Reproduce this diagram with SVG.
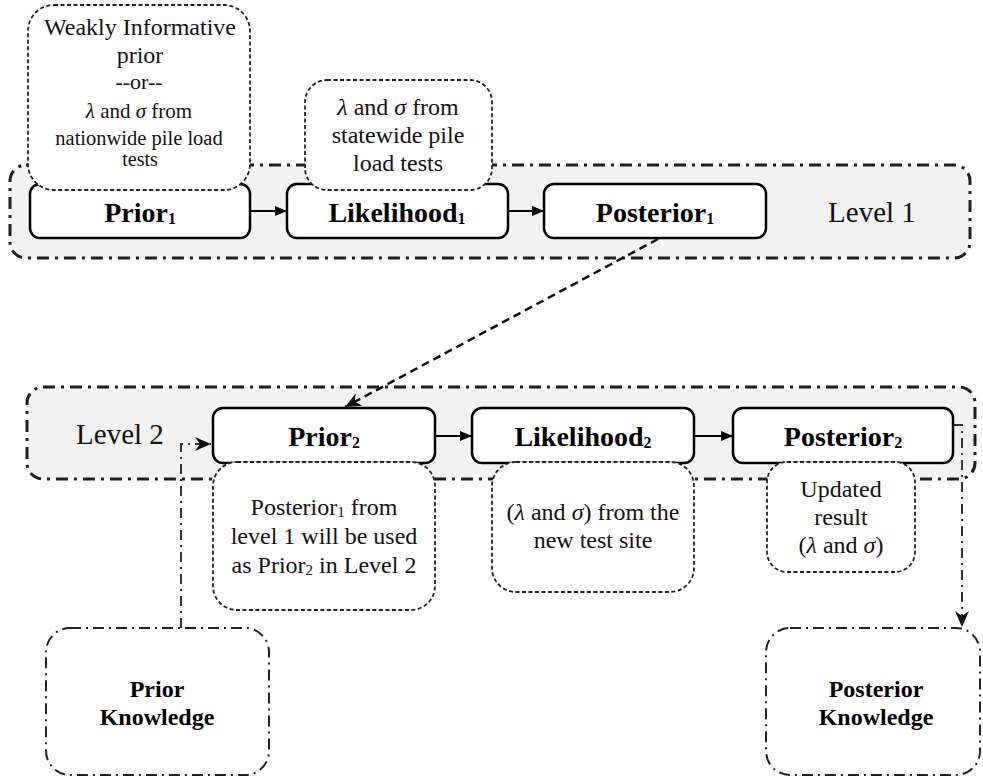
<svg xmlns="http://www.w3.org/2000/svg" width="983" height="778" viewBox="0 0 983 778" font-family="Liberation Serif, serif">
<defs>
<style>
.cont{fill:#f2f2f2;stroke:#1e1e1e;stroke-width:3;stroke-dasharray:12 6 3 6}
.node{fill:#fff;stroke:#000;stroke-width:2.5}
.note{fill:#fff;stroke:#222;stroke-width:1.8;stroke-dasharray:4 2.5}
.know{fill:#fff;stroke:#222;stroke-width:2;stroke-dasharray:11 5 2 5}
.lbl{font-weight:bold;font-size:28px;text-anchor:middle;fill:#000}
.kl{font-weight:bold;font-size:24px;text-anchor:middle;fill:#000}
.txt{font-size:24px;text-anchor:middle;fill:#111}
.lev{font-size:29px;text-anchor:middle;fill:#111}
.sub{font-size:16px}
.it{font-style:italic}
.flow{fill:none;stroke:#000;stroke-width:2}
.dash{fill:none;stroke:#111;stroke-width:2.5;stroke-dasharray:8 5}
.dd{fill:none;stroke:#333;stroke-width:2;stroke-dasharray:10 5 2 5}
</style>
<marker id="ah" markerWidth="12" markerHeight="10" refX="11" refY="5" orient="auto" markerUnits="userSpaceOnUse">
<path d="M0,0 L12,5 L0,10 z" fill="#000"/>
</marker>
<marker id="av" markerWidth="18" markerHeight="14" refX="16" refY="7" orient="auto" markerUnits="userSpaceOnUse">
<path d="M0,0 L16,7 L0,14 L5,7 z" fill="#111"/>
</marker>
</defs>

<g id="level1">
<rect class="cont" x="10" y="165" width="960" height="93" rx="16"/>
<text class="lev" x="872" y="222">Level 1</text>
</g>
<g id="level2">
<rect class="cont" x="27" y="387" width="948" height="92" rx="16"/>
<text class="lev" x="120" y="444">Level 2</text>
</g>

<g id="connectors">
<line class="flow" x1="250" y1="211" x2="286" y2="211" marker-end="url(#ah)"/>
<line class="flow" x1="508" y1="211" x2="543" y2="211" marker-end="url(#ah)"/>
<line class="flow" x1="435" y1="436" x2="471" y2="436" marker-end="url(#ah)"/>
<line class="flow" x1="694" y1="436" x2="732" y2="436" marker-end="url(#ah)"/>
<line class="dash" x1="658" y1="239" x2="345" y2="407" marker-end="url(#av)"/>
<path class="dd" d="M181 628 V444 H211" marker-end="url(#av)"/>
<path class="dd" d="M953 425 H962 V627" marker-end="url(#av)"/>
</g>

<g id="prior1">
<rect class="node" x="30" y="184" width="220" height="54" rx="10"/>
<text class="lbl" x="140" y="222">Prior<tspan class="sub" dy="2">1</tspan></text>
</g>
<g id="likelihood1">
<rect class="node" x="287" y="184" width="221" height="54" rx="10"/>
<text class="lbl" x="397" y="222">Likelihood<tspan class="sub" dy="2">1</tspan></text>
</g>
<g id="posterior1">
<rect class="node" x="544" y="184" width="222" height="54" rx="10"/>
<text class="lbl" x="655" y="222">Posterior<tspan class="sub" dy="2">1</tspan></text>
</g>

<g id="prior2">
<rect class="node" x="213" y="408" width="222" height="55" rx="10"/>
<text class="lbl" x="324" y="446">Prior<tspan class="sub" dy="2">2</tspan></text>
</g>
<g id="likelihood2">
<rect class="node" x="472" y="408" width="222" height="55" rx="10"/>
<text class="lbl" x="583" y="446">Likelihood<tspan class="sub" dy="2">2</tspan></text>
</g>
<g id="posterior2">
<rect class="node" x="733" y="408" width="220" height="55" rx="10"/>
<text class="lbl" x="843" y="446">Posterior<tspan class="sub" dy="2">2</tspan></text>
</g>

<g id="note-prior1">
<rect class="note" x="28" y="5" width="222" height="185" rx="26"/>
<text class="txt" x="140" y="35" style="font-size:24px">Weakly Informative</text>
<text class="txt" x="140" y="63" style="font-size:24px">prior</text>
<text class="txt" x="139" y="89" style="font-size:22px">--or--</text>
<text class="txt" x="139" y="118" style="font-size:21px"><tspan class="it">λ</tspan> and <tspan class="it">σ</tspan> from</text>
<text class="txt" x="139" y="145" style="font-size:20.5px">nationwide pile load</text>
<text class="txt" x="140" y="166" style="font-size:20px">tests</text>
</g>
<g id="note-likelihood1">
<rect class="note" x="305" y="80" width="187" height="110" rx="22"/>
<text class="txt" x="398" y="115"><tspan class="it">λ</tspan> and <tspan class="it">σ</tspan> from</text>
<text class="txt" x="398" y="143">statewide pile</text>
<text class="txt" x="398" y="171">load tests</text>
</g>

<g id="note-prior2">
<rect class="note" x="213" y="462" width="222" height="148" rx="24"/>
<text class="txt" x="324" y="515">Posterior<tspan style="font-size:15px" dy="2">1</tspan><tspan dy="-2"> from</tspan></text>
<text class="txt" x="324" y="544">level 1 will be used</text>
<text class="txt" x="324" y="573">as Prior<tspan style="font-size:15px" dy="2">2</tspan><tspan dy="-2"> in Level 2</tspan></text>
</g>
<g id="note-likelihood2">
<rect class="note" x="492" y="462" width="202" height="130" rx="24"/>
<text class="txt" x="593" y="520">(<tspan class="it">λ</tspan> and <tspan class="it">σ</tspan>) from the</text>
<text class="txt" x="593" y="548">new test site</text>
</g>
<g id="note-posterior2">
<rect class="note" x="767" y="462" width="148" height="110" rx="20"/>
<text class="txt" x="841" y="497">Updated</text>
<text class="txt" x="841" y="525">result</text>
<text class="txt" x="841" y="553">(<tspan class="it">λ</tspan> and <tspan class="it">σ</tspan>)</text>
</g>

<g id="prior-knowledge">
<rect class="know" x="46" y="628" width="223" height="147" rx="24"/>
<text class="kl" x="157" y="697">Prior</text>
<text class="kl" x="157" y="725">Knowledge</text>
</g>
<g id="posterior-knowledge">
<rect class="know" x="766" y="628" width="214" height="147" rx="24"/>
<text class="kl" x="876" y="697">Posterior</text>
<text class="kl" x="876" y="725">Knowledge</text>
</g>
</svg>
